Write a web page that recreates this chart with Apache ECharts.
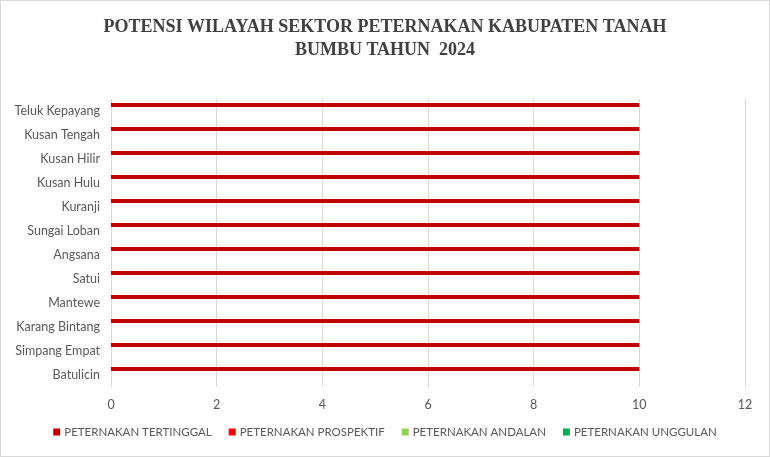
<!DOCTYPE html>
<html>
<head>
<meta charset="utf-8">
<script src="https://cdn.jsdelivr.net/npm/echarts@6/dist/echarts.min.js"></script>
<style>
  html, body { margin: 0; padding: 0; background: #fff; }
  #main { width: 768px; height: 455px; border: 1px solid #d9d9d9; }
</style>
</head>
<body>
<div id="main"></div>
<script>
// data
const kecamatan = ['Batulicin', 'Simpang Empat', 'Karang Bintang', 'Mantewe', 'Satui', 'Angsana',
  'Sungai Loban', 'Kuranji', 'Kusan Hulu', 'Kusan Hilir', 'Kusan Tengah', 'Teluk Kepayang'];
const tertinggal = [10, 10, 10, 10, 10, 10, 10, 10, 10, 10, 10, 10];
const prospektif = [0, 0, 0, 0, 0, 0, 0, 0, 0, 0, 0, 0];
const andalan = [0, 0, 0, 0, 0, 0, 0, 0, 0, 0, 0, 0];
const unggulan = [0, 0, 0, 0, 0, 0, 0, 0, 0, 0, 0, 0];
const xTicks = [0, 2, 4, 6, 8, 10, 12];

const chart = echarts.init(document.getElementById('main'));

const makeSeries = (name, data, color) => ({
  name: name,
  type: 'bar',
  data: data,
  barWidth: 4,
  barGap: '0%',
  itemStyle: { color: color },
  emphasis: { disabled: true }
});

const option = {
  animation: false,
  textStyle: { fontFamily: 'Lato' },
  title: {
    text: 'POTENSI WILAYAH SEKTOR PETERNAKAN KABUPATEN TANAH\nBUMBU TAHUN  2024',
    left: 'center',
    top: 10,
    textStyle: {
      fontFamily: 'Liberation Serif',
      fontSize: 18,
      fontWeight: 'bold',
      color: '#404040',
      lineHeight: 23
    }
  },
  legend: {
    data: ['PETERNAKAN TERTINGGAL', 'PETERNAKAN PROSPEKTIF', 'PETERNAKAN ANDALAN', 'PETERNAKAN UNGGULAN'],
    bottom: 13,
    left: 'center',
    icon: 'rect',
    itemWidth: 7,
    itemHeight: 7,
    itemGap: 17,
    textStyle: { color: '#595959', fontSize: 11.5, fontFamily: 'Lato', padding: [0, 0, 0, -1] }
  },
  grid: { left: 110, right: 24, top: 98, bottom: 69 },
  xAxis: {
    type: 'value',
    min: xTicks[0],
    max: xTicks[xTicks.length - 1],
    interval: 2,
    axisLine: { show: false },
    axisTick: { show: false },
    splitLine: { lineStyle: { color: '#d9d9d9' } },
    axisLabel: { color: '#595959', fontSize: 12.5, margin: 11 }
  },
  yAxis: {
    type: 'category',
    data: kecamatan,
    axisLine: { lineStyle: { color: '#d9d9d9' } },
    axisTick: { show: false },
    axisLabel: { color: '#595959', fontSize: 12.5, margin: 11 }
  },
  series: [
    makeSeries('PETERNAKAN TERTINGGAL', tertinggal, '#C00000'),
    makeSeries('PETERNAKAN PROSPEKTIF', prospektif, '#FF0000'),
    makeSeries('PETERNAKAN ANDALAN', andalan, '#92D050'),
    makeSeries('PETERNAKAN UNGGULAN', unggulan, '#00B050')
  ]
};
chart.setOption(option);
</script>
</body>
</html>
